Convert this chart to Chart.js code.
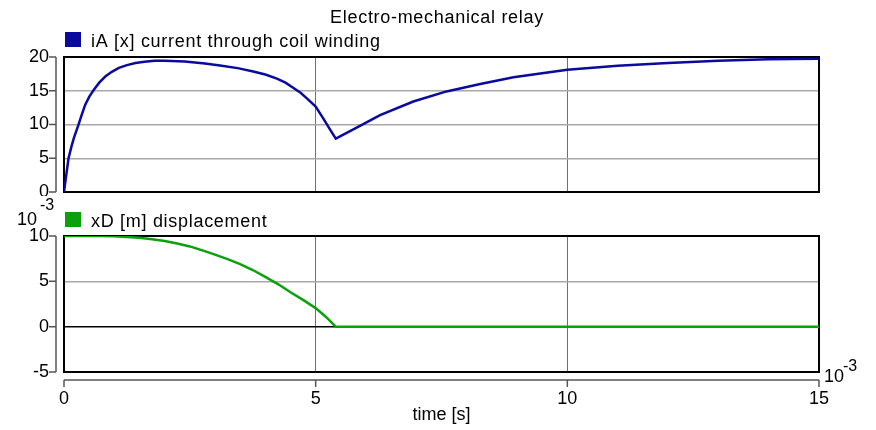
<!DOCTYPE html>
<html>
<head>
<meta charset="utf-8">
<script src="https://cdn.jsdelivr.net/npm/chart.js@4.4.1/dist/chart.umd.min.js"></script>
<style>
  body { margin: 0; background: #fff; }
  #wrap { position: relative; width: 876px; height: 430px; }
  canvas { position: absolute; left: 0; }
</style>
</head>
<body>
<div id="wrap">
  <canvas id="topChart" width="876" height="196" style="top:0"></canvas>
  <canvas id="botChart" width="876" height="234" style="top:196px"></canvas>
</div>
<script>
// time in ms (axis carries the 10^-3 factor)
const timeA = [0, 0.05, 0.09, 0.15, 0.2, 0.28, 0.35, 0.42, 0.5, 0.59, 0.7, 0.82, 0.95, 1.09, 1.25, 1.42,
  1.6, 1.8, 2.0, 2.4, 2.8, 3.1, 3.45, 3.76, 4.0, 4.23, 4.4, 4.56, 4.7, 4.82, 5.0, 5.15, 5.29, 5.4,
  5.88, 6.28, 6.94, 7.6, 8.27, 8.93, 9.5, 10, 11, 12, 13, 14, 15];
const iA = [0, 2.8, 5.0, 6.8, 8.1, 9.8, 11.4, 12.9, 14.1, 15.1, 16.2, 17.1, 17.8, 18.4, 18.8, 19.1,
  19.3, 19.45, 19.45, 19.35, 19.05, 18.75, 18.35, 17.86, 17.4, 16.8, 16.2, 15.4, 14.7, 13.9, 12.65, 10.9, 9.2, 7.9,
  9.8, 11.4, 13.4, 14.9, 16.0, 17.0, 17.6, 18.1, 18.7, 19.1, 19.45, 19.65, 19.75];

const timeX = [0, 0.5, 0.75, 1.0, 1.25, 1.5, 1.75, 2.0, 2.25, 2.5, 2.75, 3.0, 3.25, 3.5, 3.75, 4.0,
  4.25, 4.5, 4.75, 5.0, 5.2, 5.4, 15];
const xD = [10, 10, 9.99, 9.97, 9.9, 9.8, 9.65, 9.45, 9.18, 8.85, 8.42, 7.95, 7.45, 6.9, 6.25, 5.5,
  4.7, 3.8, 2.95, 2.05, 1.1, 0, 0];

const xTicks = [0, 5, 10, 15];

const FONT = "'Liberation Sans', Arial, sans-serif";
const BLUE = "#0a0a9e";
const GREEN = "#0ca00c";

Chart.defaults.font.family = FONT;
Chart.defaults.font.size = 18;
Chart.defaults.color = "#000";

// frame, offset axes, legend, title, exponent labels
const decor = {
  id: "decor",
  beforeDatasetsDraw(chart, args, o) {
    const { ctx, chartArea: a, scales } = chart;
    const y = scales.y, x = scales.x;
    ctx.save();
    ctx.strokeStyle = "#000";
    ctx.lineWidth = 2;
    ctx.strokeRect(a.left, a.top, a.right - a.left, a.bottom - a.top);

    ctx.strokeStyle = "#555";
    ctx.lineWidth = 1.5;
    ctx.beginPath();
    ctx.moveTo(a.left - 8, a.top);
    ctx.lineTo(a.left - 8, a.bottom);
    y.ticks.forEach(t => {
      const py = y.getPixelForValue(t.value);
      ctx.moveTo(a.left - 15, py);
      ctx.lineTo(a.left - 8, py);
    });
    if (o.xAxis) {
      ctx.moveTo(a.left, a.bottom + 8);
      ctx.lineTo(a.right, a.bottom + 8);
      x.ticks.forEach(t => {
        const px = x.getPixelForValue(t.value);
        ctx.moveTo(px, a.bottom + 8);
        ctx.lineTo(px, a.bottom + 15);
      });
    }
    ctx.stroke();
    ctx.restore();
  },
  afterDraw(chart, args, o) {
    const { ctx, chartArea: a } = chart;
    ctx.save();
    ctx.fillStyle = "#000";
    ctx.textBaseline = "alphabetic";
    ctx.letterSpacing = "0.7px";
    ctx.font = "18px " + FONT;
    if (o.title) {
      ctx.textAlign = "center";
      ctx.fillText(o.title, 437, 23);
    }
    // legend
    ctx.textAlign = "left";
    ctx.fillStyle = o.color;
    ctx.fillRect(a.left + 1, o.legendY - 15, 16, 15);
    ctx.fillStyle = "#000";
    ctx.fillText(o.legend, a.left + 27, o.legendY);
    ctx.letterSpacing = "0px";
    if (o.expY) {
      ctx.fillText("10", 17, 29);
      ctx.font = "16px " + FONT;
      ctx.fillText("-3", 40, 14);
    }
    if (o.xAxis) {
      ctx.font = "18px " + FONT;
      ctx.fillText("10", 824, 186);
      ctx.font = "16px " + FONT;
      ctx.fillText("-3", 843, 175);
    }
    ctx.restore();
  }
};

function xScale(showTicks, h) {
  return {
    type: "linear",
    min: 0,
    max: 15,
    afterBuildTicks: s => { s.ticks = xTicks.map(v => ({ value: v })); },
    afterFit: s => { s.height = h; s.paddingLeft = 0; s.paddingRight = 0; },
    grid: { color: "#707070", lineWidth: 1, drawTicks: false },
    border: { display: false },
    ticks: { display: showTicks, padding: 16, maxRotation: 0 },
    title: { display: showTicks, text: "time [s]", padding: { top: 0, bottom: 4 } }
  };
}

function yScale(min, max, zeroBlack) {
  return {
    min: min,
    max: max,
    afterFit: s => { s.width = 64; s.paddingTop = 0; s.paddingBottom = 0; },
    ticks: { stepSize: 5, padding: 15 },
    grid: {
      drawTicks: false,
      color: c => (zeroBlack && c.tick && c.tick.value === 0) ? "#000" : "#a8a8a8",
      lineWidth: 1.5
    },
    border: { display: false }
  };
}

new Chart(document.getElementById("topChart"), {
  type: "line",
  data: {
    datasets: [{
      data: timeA.map((t, i) => ({ x: t, y: iA[i] })),
      borderColor: BLUE,
      borderWidth: 2.5,
      pointRadius: 0,
      tension: 0
    }]
  },
  options: {
    responsive: false,
    animation: false,
    devicePixelRatio: 1,
    layout: { padding: { top: 57, right: 57, left: 0, bottom: 0 } },
    plugins: {
      legend: { display: false },
      tooltip: { enabled: false },
      decor: { title: "Electro-mechanical relay", legend: "iA [x] current through coil winding", color: BLUE, legendY: 47 }
    },
    scales: { x: xScale(false, 4), y: yScale(0, 20, false) }
  },
  plugins: [decor]
});

new Chart(document.getElementById("botChart"), {
  type: "line",
  data: {
    datasets: [{
      data: timeX.map((t, i) => ({ x: t, y: xD[i] })),
      borderColor: GREEN,
      borderWidth: 2.5,
      pointRadius: 0,
      tension: 0
    }]
  },
  options: {
    responsive: false,
    animation: false,
    devicePixelRatio: 1,
    layout: { padding: { top: 40, right: 57, left: 0, bottom: 0 } },
    plugins: {
      legend: { display: false },
      tooltip: { enabled: false },
      decor: { legend: "xD [m] displacement", color: GREEN, legendY: 31, expY: true, xAxis: true }
    },
    scales: { x: xScale(true, 58), y: yScale(-5, 10, true) }
  },
  plugins: [decor]
});
</script>
</body>
</html>
